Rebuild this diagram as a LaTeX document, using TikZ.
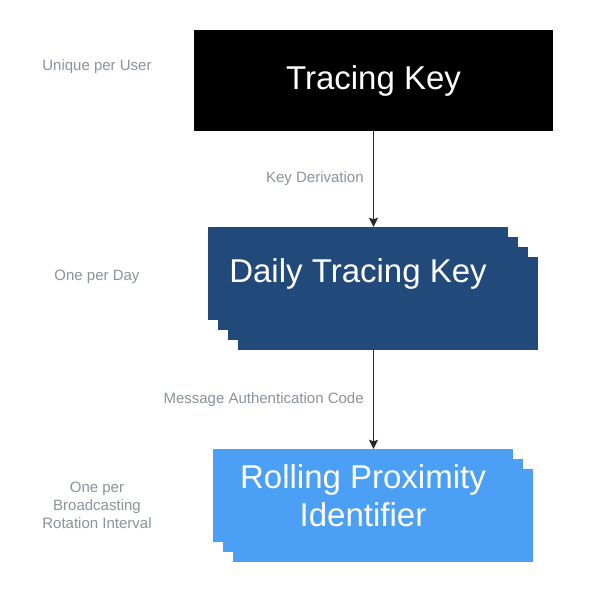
\documentclass[tikz,border=0pt]{standalone}
\usepackage{fontspec}
\setmainfont{Liberation Sans}
\usetikzlibrary{arrows.meta,positioning}
\definecolor{darkkey}{HTML}{214A7A}
\definecolor{lightkey}{HTML}{4BA0F5}
\definecolor{notegray}{HTML}{8C929B}
\begin{document}
\begin{tikzpicture}[x=1pt,y=-1pt,>={Stealth[length=9pt,width=9pt,inset=1.5pt]},font=\fontsize{15}{18}\selectfont]
  \tikzset{keybox/.style={inner sep=0pt,minimum width=300pt,minimum height=93pt},
    keytext/.style={text=white,font=\fontsize{33}{38}\selectfont,align=center},
    note/.style={text=notegray,align=center},
    link/.style={->,line width=1pt,draw=black!85}}
  \useasboundingbox[fill=white] (0,0) rectangle (600,596);
  % keys
  \node[keytext,fill=black,inner sep=0pt,minimum width=359pt,minimum height=101pt] (tk) at (373.5,80.5) {Tracing Key};
  \foreach \i in {3,2,1}{
    \node[keybox,fill=darkkey] (d\i) at ({358+10*\i},{273.5+10*\i}) {};}
  \node[keybox,keytext,fill=darkkey] (d0) at (358,273.5) {Daily Tracing Key};
  \foreach \i in {2,1}{
    \node[keybox,fill=lightkey] (r\i) at ({363+10*\i},{495.5+10*\i}) {};}
  \node[keybox,keytext,fill=lightkey] (r0) at (363,495.5) {Rolling Proximity\\Identifier};
  % derivations
  \draw[link] (tk.south) -- (tk.south |- d0.north) node[midway,left=6pt,note] {Key Derivation};
  \draw[link] (tk.south |- d3.south) -- (tk.south |- r0.north) node[midway,left=6pt,note] {Message Authentication Code};
  % lifetimes
  \node[note] (n1) at (97,67) {Unique per User};
  \node[note] (n2) at (97,277) {One per Day};
  \node[note] (n3) at (97,505) {One per\\Broadcasting\\Rotation Interval};
\end{tikzpicture}
\end{document}
